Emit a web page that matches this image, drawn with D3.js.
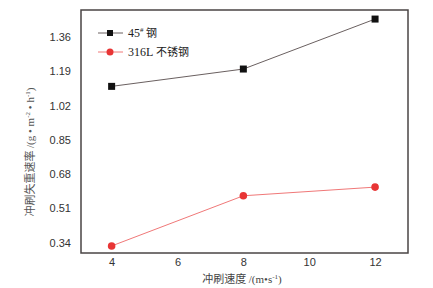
<!DOCTYPE html>
<html><head><meta charset="utf-8">
<script src="https://cdn.jsdelivr.net/npm/d3@7/dist/d3.min.js"></script>
<style>body{margin:0;background:#fff}svg{display:block}</style>
</head><body>
<script>
const speeds = [4, 8, 12];
const steel45 = [1.115, 1.201, 1.449];
const steel316L = [0.323, 0.572, 0.615];
const xTicks = [4, 6, 8, 10, 12];
const yTicks = [0.34, 0.51, 0.68, 0.85, 1.02, 1.19, 1.36];

const W = 433, H = 288;
const m = {l: 81, t: 10, r: 25, b: 35};
const svg = d3.select("body").append("svg").attr("width", W).attr("height", H);
const x = d3.scaleLinear().domain([3.07, 13.0]).range([m.l, W - m.r]);
const y = d3.scaleLinear().domain([0.288, 1.494]).range([H - m.b, m.t]);

const sans = "Liberation Sans, Arial, sans-serif";
const serif = "Liberation Serif, 'Times New Roman', 'Noto Sans CJK SC', serif";

const xa = svg.append("g").attr("transform", `translate(0,${H - m.b})`)
  .call(d3.axisBottom(x).tickValues(xTicks).tickSize(0).tickPadding(5).tickFormat(d3.format("d")));
const ya = svg.append("g").attr("transform", `translate(${m.l},0)`)
  .call(d3.axisLeft(y).tickValues(yTicks).tickSize(0).tickPadding(10).tickFormat(d3.format(".2f")));
[xa, ya].forEach(a => {
  a.select(".domain").remove();
  a.selectAll("text").attr("font-family", sans).attr("font-size", 11).attr("fill", "#333");
});

svg.append("rect").attr("x", m.l).attr("y", m.t)
  .attr("width", W - m.r - m.l).attr("height", H - m.b - m.t)
  .attr("fill", "none").attr("stroke", "#4a4444").attr("stroke-width", 1.5);

const line = d3.line().x((d, i) => x(speeds[i])).y(d => y(d));
svg.append("path").datum(steel45).attr("d", line).attr("fill", "none").attr("stroke", "#6a6060").attr("stroke-width", 1);
svg.append("path").datum(steel316L).attr("d", line).attr("fill", "none").attr("stroke", "#f07878").attr("stroke-width", 1);
svg.selectAll(".sq").data(steel45).enter().append("rect")
  .attr("x", (d, i) => x(speeds[i]) - 3.5).attr("y", d => y(d) - 3.5)
  .attr("width", 7).attr("height", 7).attr("fill", "#111");
svg.selectAll(".ci").data(steel316L).enter().append("circle")
  .attr("cx", (d, i) => x(speeds[i])).attr("cy", d => y(d)).attr("r", 3.8).attr("fill", "#e83535");

const lg = svg.append("g");
lg.append("line").attr("x1", 98).attr("x2", 123).attr("y1", 33).attr("y2", 33).attr("stroke", "#6a6060");
lg.append("rect").attr("x", 107).attr("y", 30).attr("width", 6).attr("height", 6).attr("fill", "#111");
lg.append("line").attr("x1", 98).attr("x2", 123).attr("y1", 52).attr("y2", 52).attr("stroke", "#f07878");
lg.append("circle").attr("cx", 110).attr("cy", 52).attr("r", 3.5).attr("fill", "#e83535");
const t1 = lg.append("text").attr("x", 128).attr("y", 37).attr("font-family", serif).attr("font-size", 12).attr("fill", "#222");
t1.append("tspan").text("45");
t1.append("tspan").text("#").attr("font-size", 7).attr("dy", -5);
t1.append("tspan").text(" 钢").attr("dy", 5).attr("font-family", "Noto Sans CJK SC").attr("font-size", 11);
const t2 = lg.append("text").attr("x", 128).attr("y", 56).attr("font-family", serif).attr("font-size", 12).attr("fill", "#222");
t2.append("tspan").text("316L ");
t2.append("tspan").text("不锈钢").attr("font-family", "Noto Sans CJK SC").attr("font-size", 11);

const xt = svg.append("text").attr("x", 242).attr("y", 283).attr("text-anchor", "middle")
  .attr("font-family", serif).attr("font-size", 11).attr("fill", "#444");
xt.append("tspan").text("冲刷速度 ").attr("font-family", "Noto Sans CJK SC");
xt.append("tspan").text("/(m•s");
xt.append("tspan").text("-1").attr("font-size", 7).attr("dy", -4);
xt.append("tspan").text(")").attr("dy", 4);

const yt = svg.append("text").attr("transform", "translate(34,152) rotate(-90)").attr("text-anchor", "middle")
  .attr("font-family", serif).attr("font-size", 11).attr("fill", "#555");
yt.append("tspan").text("冲刷失重速率 ").attr("font-family", "Noto Sans CJK SC");
yt.append("tspan").text("/(g • m");
yt.append("tspan").text("-2").attr("font-size", 7).attr("dy", -4);
yt.append("tspan").text(" • h").attr("dy", 4);
yt.append("tspan").text("-1").attr("font-size", 7).attr("dy", -4);
yt.append("tspan").text(")").attr("dy", 4);
</script>
</body></html>
